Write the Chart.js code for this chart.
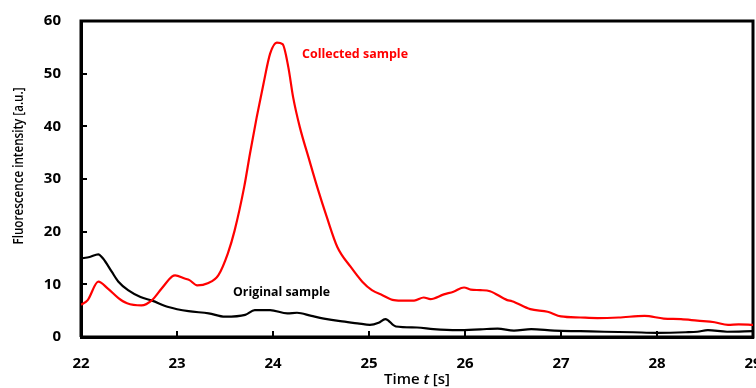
<!DOCTYPE html>
<html>
<head>
<meta charset="utf-8">
<script src="https://cdn.jsdelivr.net/npm/chart.js@4"></script>
</head>
<body style="margin:0">
<canvas id="c" width="756" height="388"></canvas>
<script>
// ---- data ----
const redTime = [22.00, 22.07, 22.18, 22.28, 22.39, 22.48, 22.63, 22.74, 22.84, 22.95, 22.98, 23.08, 23.13, 23.21, 23.32, 23.43, 23.53, 23.60, 23.70, 23.76, 23.83, 23.90, 23.97, 24.04, 24.10, 24.16, 24.21, 24.28, 24.37, 24.46, 24.56, 24.67, 24.81, 24.93, 25.03, 25.14, 25.26, 25.37, 25.47, 25.57, 25.64, 25.78, 25.88, 25.99, 26.06, 26.16, 26.26, 26.44, 26.49, 26.68, 26.86, 27.00, 27.20, 27.38, 27.60, 27.87, 28.07, 28.25, 28.42, 28.60, 28.74, 28.85, 29.00];
const redValues = [6.1, 7.0, 10.5, 9.2, 7.4, 6.4, 6.0, 7.0, 9.2, 11.5, 11.7, 11.1, 10.8, 9.8, 10.2, 11.7, 15.9, 20.2, 28.5, 34.8, 41.7, 48.0, 53.8, 55.9, 55.6, 51.2, 45.5, 39.8, 34.1, 28.5, 22.8, 17.1, 13.3, 10.5, 8.9, 7.95, 7.0, 6.9, 6.9, 7.5, 7.2, 8.1, 8.6, 9.4, 9.0, 8.9, 8.7, 7.0, 6.8, 5.3, 4.8, 3.9, 3.7, 3.6, 3.7, 4.0, 3.5, 3.4, 3.1, 2.8, 2.3, 2.4, 2.3];
const blackTime = [22.00, 22.09, 22.18, 22.23, 22.32, 22.39, 22.49, 22.62, 22.74, 22.91, 23.12, 23.33, 23.50, 23.71, 23.81, 23.97, 24.15, 24.25, 24.40, 24.53, 24.70, 24.88, 25.01, 25.10, 25.17, 25.28, 25.50, 25.67, 25.92, 26.16, 26.34, 26.51, 26.69, 26.93, 27.20, 27.45, 27.75, 28.00, 28.30, 28.42, 28.53, 28.73, 29.00];
const blackValues = [14.9, 15.2, 15.7, 14.9, 12.4, 10.5, 8.9, 7.6, 6.9, 5.7, 4.9, 4.5, 3.85, 4.2, 5.1, 5.1, 4.5, 4.6, 4.0, 3.5, 3.0, 2.6, 2.3, 2.7, 3.4, 2.0, 1.8, 1.5, 1.3, 1.45, 1.6, 1.2, 1.5, 1.2, 1.1, 1.0, 0.9, 0.8, 0.9, 1.0, 1.3, 1.0, 1.1];
const xTicks = [22, 23, 24, 25, 26, 27, 28, 29];
const yTicks = [0, 10, 20, 30, 40, 50, 60];
const seriesNames = ["Collected sample", "Original sample"];
const xTitleParts = ["Time ", "t", " [s]"];
const yTitle = "Fluorescence intensity [a.u.]";

// plot frame follows the axis range
const x0 = xTicks[0], x1 = xTicks[xTicks.length - 1];
const y0 = yTicks[0], y1 = yTicks[yTicks.length - 1];
const framePts = [{x: x0, y: y0}, {x: x0, y: y1}, {x: x1, y: y1}, {x: x1, y: y0}, {x: x0, y: y0}];

function fitText(ctx, text, x, y, targetW, font, color) {
  ctx.save();
  ctx.font = font;
  ctx.fillStyle = color;
  ctx.textBaseline = 'middle';
  ctx.textAlign = 'left';
  const w = ctx.measureText(text).width || 1;
  ctx.translate(x, y);
  ctx.scale(targetW / w, 1);
  ctx.fillText(text, 0, 0);
  ctx.restore();
}

const decor = {
  id: 'decor',
  afterDraw(chart) {
    const ctx = chart.ctx;
    const a = chart.chartArea;
    const xs = chart.scales.x, ys = chart.scales.y;
    ctx.save();
    ctx.fillStyle = 'black';
    xTicks.forEach(v => {
      const px = Math.round(xs.getPixelForValue(v));
      ctx.fillRect(px - 1, a.bottom - 6, 2, 6);
    });
    yTicks.forEach(v => {
      const py = Math.round(ys.getPixelForValue(v));
      ctx.fillRect(a.left, py - 1, 6, 2);
    });
    ctx.restore();
    fitText(ctx, seriesNames[0], 302, 54, 106, 'bold 13px "Open Sans"', '#ff0000');
    fitText(ctx, seriesNames[1], 233, 292, 97, 'bold 13px "Open Sans"', '#000000');
    ctx.save();
    ctx.translate(19, 166);
    ctx.rotate(-Math.PI / 2);
    ctx.font = '600 14px "Open Sans"';
    const yw = ctx.measureText(yTitle).width || 1;
    ctx.scale(157 / yw, 1);
    ctx.fillStyle = 'black';
    ctx.textAlign = 'center';
    ctx.textBaseline = 'middle';
    ctx.fillText(yTitle, 0, 0);
    ctx.restore();
    ctx.save();
    ctx.fillStyle = 'black';
    ctx.textBaseline = 'middle';
    ctx.textAlign = 'left';
    const f1 = '600 15px "Open Sans"', f2 = 'italic 600 15px "Open Sans"';
    ctx.font = f1; const w1 = ctx.measureText(xTitleParts[0]).width;
    ctx.font = f2; const w2 = ctx.measureText(xTitleParts[1]).width;
    ctx.font = f1; const w3 = ctx.measureText(xTitleParts[2]).width;
    const total = (w1 + w2 + w3) || 1;
    const s = 66 / total;
    const cx = (a.left + a.right) / 2;
    ctx.translate(cx - total * s / 2, 380);
    ctx.scale(s, 1);
    ctx.font = f1; ctx.fillText(xTitleParts[0], 0, 0);
    ctx.font = f2; ctx.fillText(xTitleParts[1], w1, 0);
    ctx.font = f1; ctx.fillText(xTitleParts[2], w1 + w2, 0);
    ctx.restore();
  }
};

new Chart(document.getElementById('c'), {
  type: 'line',
  data: {
    datasets: [
      {data: redTime.map((x, i) => ({x: x, y: redValues[i]})), borderColor: '#ff0000', borderWidth: 2.2, pointRadius: 0, cubicInterpolationMode: 'monotone'},
      {data: blackTime.map((x, i) => ({x: x, y: blackValues[i]})), borderColor: '#000000', borderWidth: 2.2, pointRadius: 0, cubicInterpolationMode: 'monotone'},
      {data: framePts, borderColor: '#000000', borderWidth: 3, pointRadius: 0, tension: 0, clip: 6}
    ]
  },
  options: {
    responsive: false,
    animation: false,
    layout: {padding: {top: 20, right: 3}},
    plugins: {legend: {display: false}, tooltip: {enabled: false}},
    scales: {
      x: {
        type: 'linear', min: x0, max: x1,
        afterBuildTicks: s => { s.ticks = xTicks.map(v => ({value: v})); },
        afterFit: s => { s.height = 51; s.paddingLeft = 0; s.paddingRight = 0; },
        grid: {display: false},
        border: {display: true, color: '#000', width: 3},
        ticks: {color: '#000', font: {family: 'Open Sans', weight: 'bold', size: 15}, padding: 10, maxRotation: 0}
      },
      y: {
        min: y0, max: y1,
        afterBuildTicks: s => { s.ticks = yTicks.map(v => ({value: v})); },
        afterFit: s => { s.width = 81; },
        grid: {display: false},
        border: {display: true, color: '#000', width: 3},
        ticks: {color: '#000', font: {family: 'Open Sans', weight: 'bold', size: 15}, padding: 12}
      }
    }
  },
  plugins: [decor]
});
</script>
</body>
</html>
